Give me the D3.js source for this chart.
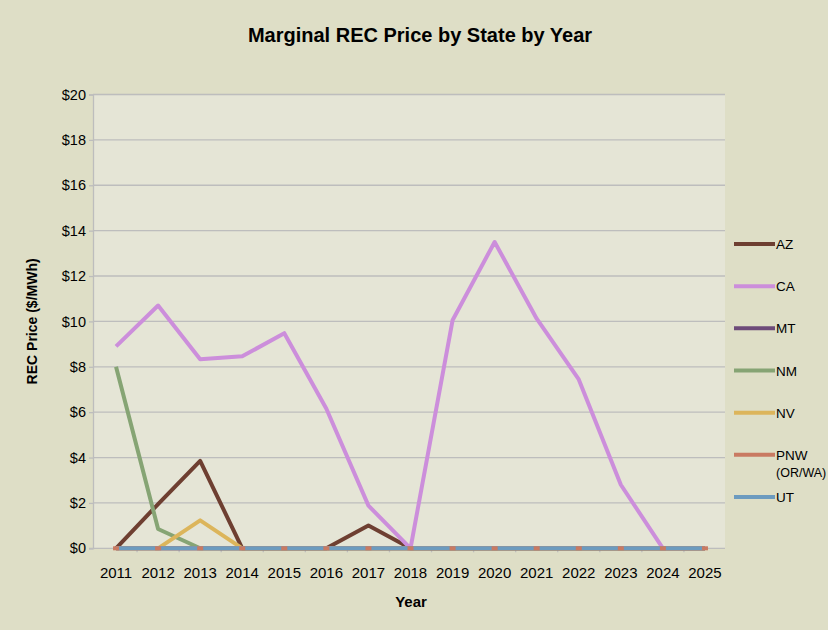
<!DOCTYPE html>
<html>
<head>
<meta charset="utf-8">
<script src="https://cdn.jsdelivr.net/npm/d3@7/dist/d3.min.js"></script>
<style>
  html, body { margin: 0; padding: 0; background: #ffffff; }
  svg text { font-family: "Liberation Sans", Arial, sans-serif; fill: #000; }
</style>
</head>
<body>
<svg id="chart" width="828" height="633"></svg>
<script>
// Data
const years = ['2011','2012','2013','2014','2015','2016','2017','2018','2019','2020','2021','2022','2023','2024','2025'];
const azValues  = [0, 1.95, 3.85, 0, 0, 0, 1.0, 0, 0, 0, 0, 0, 0, 0, 0];
const caValues  = [8.9, 10.7, 8.33, 8.46, 9.48, 6.15, 1.88, 0, 10.05, 13.5, 10.12, 7.44, 2.8, 0, 0];
const mtValues  = [0, 0, 0, 0, 0, 0, 0, 0, 0, 0, 0, 0, 0, 0, 0];
const nmValues  = [8.0, 0.85, 0, 0, 0, 0, 0, 0, 0, 0, 0, 0, 0, 0, 0];
const nvValues  = [0, 0, 1.23, 0, 0, 0, 0, 0, 0, 0, 0, 0, 0, 0, 0];
const pnwValues = [0, 0, 0, 0, 0, 0, 0, 0, 0, 0, 0, 0, 0, 0, 0];
const utValues  = [0, 0, 0, 0, 0, 0, 0, 0, 0, 0, 0, 0, 0, 0, 0];
const yTicks = [0, 2, 4, 6, 8, 10, 12, 14, 16, 18, 20];

const series = [
  { name: 'AZ',  values: azValues,  color: '#6e3f31' },
  { name: 'CA',  values: caValues,  color: '#cc8edb' },
  { name: 'MT',  values: mtValues,  color: '#6d4b79' },
  { name: 'NM',  values: nmValues,  color: '#86a474' },
  { name: 'NV',  values: nvValues,  color: '#dcb55b' },
  { name: 'PNW', values: pnwValues, color: '#c97a62', label: ['PNW', '(OR/WA)'] },
  { name: 'UT',  values: utValues,  color: '#6c9bbf' }
];

const W = 828, H = 633;
const plot = { left: 93, right: 725, top: 94.5, bottom: 548.3 };

const svg = d3.select('#chart');

// chart area background
svg.append('rect').attr('x', 0).attr('y', 0).attr('width', W).attr('height', 630)
  .attr('fill', '#dedec6');

svg.append('rect')
  .attr('x', plot.left).attr('y', plot.top)
  .attr('width', plot.right - plot.left).attr('height', plot.bottom - plot.top)
  .attr('fill', '#e5e5d6');

const x = d3.scaleBand().domain(years).range([plot.left + 2, plot.right + 1]);
const y = d3.scaleLinear().domain([0, 20]).range([plot.bottom, plot.top]);
const cx = d => x(d) + x.bandwidth() / 2;

// gridlines
svg.append('g').selectAll('line')
  .data(yTicks.filter(t => t > 0))
  .join('line')
  .attr('x1', plot.left).attr('x2', plot.right)
  .attr('y1', d => y(d)).attr('y2', d => y(d))
  .attr('stroke', '#bdbdbd').attr('stroke-width', 1.3);

// y axis
const yAxis = d3.axisLeft(y).tickValues(yTicks).tickSize(4).tickFormat(d => '$' + d);
const yg = svg.append('g').attr('transform', `translate(${plot.left},0)`).call(yAxis);
yg.attr('font-family', null);
yg.select('.domain').attr('stroke', '#bdbdbd').attr('stroke-width', 1.3);
yg.selectAll('.tick line').attr('stroke', '#bdbdbd').attr('stroke-width', 1.3);
yg.selectAll('.tick text').attr('x', -7).attr('font-size', 14.5).attr('font-weight', 'normal').attr('fill', '#000');

// x axis (ticks between categories)
svg.append('line')
  .attr('x1', plot.left - 4).attr('x2', plot.right)
  .attr('y1', plot.bottom).attr('y2', plot.bottom)
  .attr('stroke', '#bdbdbd').attr('stroke-width', 1.3);
svg.append('g').selectAll('line')
  .data(years.slice(1))
  .join('line')
  .attr('x1', d => x(d)).attr('x2', d => x(d))
  .attr('y1', plot.bottom).attr('y2', plot.bottom + 4)
  .attr('stroke', '#bdbdbd').attr('stroke-width', 1.3);
svg.append('g').selectAll('text')
  .data(years)
  .join('text')
  .attr('x', d => cx(d)).attr('y', 578)
  .attr('text-anchor', 'middle').attr('font-size', 15)
  .text(d => d);

// lines
const line = d3.line().x((d, i) => cx(years[i])).y(d => y(d));
svg.append('g').selectAll('path')
  .data(series)
  .join('path')
  .attr('d', s => line(s.values))
  .attr('fill', 'none')
  .attr('stroke', s => s.color)
  .attr('stroke-width', 4)
  .attr('stroke-linejoin', 'round');

// PNW point marks peeking through UT line
const pnw = series.find(s => s.name === 'PNW');
svg.append('g').selectAll('rect')
  .data(pnw.values)
  .join('rect')
  .attr('x', (d, i) => cx(years[i]) - 3).attr('y', d => y(d) - 2)
  .attr('width', 6).attr('height', 4)
  .attr('fill', pnw.color);

// title
svg.append('text')
  .attr('x', 420).attr('y', 42)
  .attr('text-anchor', 'middle')
  .attr('font-size', 20).attr('font-weight', 'bold')
  .text('Marginal REC Price by State by Year');

// axis titles
svg.append('text')
  .attr('x', 411).attr('y', 607)
  .attr('text-anchor', 'middle')
  .attr('font-size', 15).attr('font-weight', 'bold')
  .text('Year');
svg.append('text')
  .attr('transform', `translate(37,${(plot.top + plot.bottom) / 2}) rotate(-90)`)
  .attr('text-anchor', 'middle')
  .attr('font-size', 14).attr('font-weight', 'bold')
  .text('REC Price ($/MWh)');

// legend
const lg = svg.append('g');
const ly = d3.scalePoint().domain(series.map(s => s.name)).range([244, 497]);
series.forEach(s => {
  const yy = ly(s.name);
  lg.append('line')
    .attr('x1', 734).attr('x2', 775)
    .attr('y1', yy).attr('y2', yy)
    .attr('stroke', s.color).attr('stroke-width', 4);
  const t = lg.append('text')
    .attr('x', 776).attr('y', yy + 5)
    .attr('font-size', 13.5);
  const labels = s.label || [s.name];
  labels.forEach((l, i) => {
    t.append('tspan').attr('x', 776).attr('dy', i === 0 ? 0 : 17)
      .attr('font-size', i === 0 ? null : 12.5).text(l);
  });
});

// thin white strip along the bottom edge
svg.append('rect').attr('x', 0).attr('y', 630).attr('width', W).attr('height', 3).attr('fill', '#ffffff');
</script>
</body>
</html>
